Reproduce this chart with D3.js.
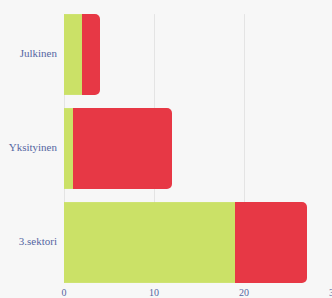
<!DOCTYPE html>
<html><head><meta charset="utf-8">
<script src="https://cdn.jsdelivr.net/npm/d3@7"></script>
<style>html,body{margin:0;padding:0;background:#f7f7f7;overflow:hidden}</style>
</head><body>
<script>
const categories = ["Julkinen", "Yksityinen", "3.sektori"];
const seriesA = [2, 1, 19];
const seriesB = [2, 11, 8];
const xTicks = [0, 10, 20, 30];

const W = 332, H = 298;
const svg = d3.select("body").append("svg").attr("width", W).attr("height", H)
  .style("background", "#f7f7f7").style("display","block");

const x = d3.scaleLinear().domain([0, 30]).range([64, 334]);
const y = d3.scaleBand().domain(categories).range([7.5, 289.5]).paddingInner(0.14).paddingOuter(0.07);

const top0 = y(categories[0]), bot = y(categories[2]) + y.bandwidth();

svg.append("g").selectAll("line").data(xTicks).join("line")
  .attr("x1", d => x(d) + 0.5).attr("x2", d => x(d) + 0.5)
  .attr("y1", top0).attr("y2", bot)
  .attr("stroke", "#e4e4e4").attr("stroke-width", 1);

const colors = ["#cbe167", "#e73845"];
const r = 5;
function roundedRight(x0, y0, w, h, rr) {
  const p = d3.path();
  p.moveTo(x0, y0);
  p.lineTo(x0 + w - rr, y0);
  p.arcTo(x0 + w, y0, x0 + w, y0 + rr, rr);
  p.lineTo(x0 + w, y0 + h - rr);
  p.arcTo(x0 + w, y0 + h, x0 + w - rr, y0 + h, rr);
  p.lineTo(x0, y0 + h);
  p.closePath();
  return p.toString();
}

const g = svg.append("g");
categories.forEach((c, i) => {
  const a = seriesA[i], b = seriesB[i];
  g.append("rect").attr("x", x(0)).attr("y", y(c))
    .attr("width", x(a) - x(0)).attr("height", y.bandwidth()).attr("fill", colors[0]);
  g.append("path").attr("d", roundedRight(x(a), y(c), x(a + b) - x(a), y.bandwidth(), r))
    .attr("fill", colors[1]);
});

svg.append("g").selectAll("text").data(categories).join("text")
  .attr("x", 57).attr("y", d => y(d) + y.bandwidth() / 2)
  .attr("text-anchor", "end").attr("dominant-baseline", "middle")
  .attr("font-family", "Liberation Serif, serif").attr("font-size", 11)
  .attr("fill", "#5566a2").text(d => d);

svg.append("g").selectAll("text").data(xTicks).join("text")
  .attr("x", d => x(d)).attr("y", 296)
  .attr("text-anchor", "middle")
  .attr("font-family", "Liberation Serif, serif").attr("font-size", 10)
  .attr("fill", "#5566a2").text(d => d);
</script>
</body></html>
